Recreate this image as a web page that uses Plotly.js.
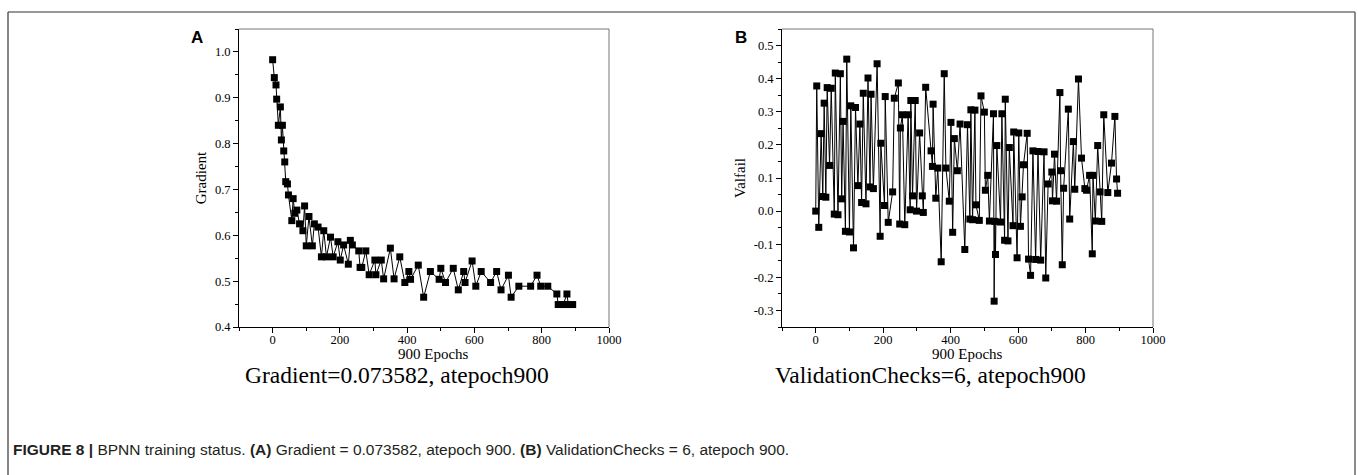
<!DOCTYPE html>
<html><head><meta charset="utf-8">
<script src="https://cdn.plot.ly/plotly-3.0.1.min.js"></script>
<style>html,body{margin:0;padding:0;background:#fff}#chart{width:1358px;height:475px}</style>
</head><body><div id="chart"></div><script>
// Panel A: gradient vs epoch
const epochsA = [0,5,10,12,17,23,26,29,33,36,39,44,47,57,61,66,72,80,90,95,100,108,118,124,135,145,152,160,172,180,194,201,211,225,231,237,256,260,265,277,287,304,307,323,330,350,361,378,393,405,410,433,449,469,495,500,514,537,552,568,572,593,604,620,648,666,679,701,709,732,767,786,797,818,845,849,864,875,879,892];
const gradient = [0.983,0.944,0.928,0.897,0.840,0.880,0.808,0.840,0.784,0.760,0.717,0.712,0.688,0.632,0.680,0.648,0.655,0.625,0.610,0.664,0.577,0.641,0.577,0.625,0.618,0.553,0.610,0.553,0.596,0.553,0.586,0.546,0.579,0.537,0.589,0.579,0.566,0.530,0.530,0.566,0.514,0.546,0.514,0.546,0.505,0.572,0.505,0.553,0.497,0.521,0.504,0.535,0.465,0.521,0.504,0.528,0.497,0.528,0.481,0.521,0.497,0.544,0.489,0.521,0.497,0.521,0.481,0.513,0.465,0.489,0.489,0.513,0.489,0.489,0.472,0.449,0.449,0.472,0.449,0.449];
// Panel B: validation fail vs epoch
const epochsB = [0,3,9,16,21,25,30,34,41,46,55,58,66,73,77,81,88,92,100,104,112,118,125,131,136,141,149,155,161,164,171,182,191,193,204,206,215,228,233,245,249,251,257,264,274,280,282,287,295,299,308,316,319,326,342,346,348,356,362,372,381,386,396,401,406,411,420,428,442,450,457,460,465,472,475,485,490,500,503,510,515,527,529,531,533,537,548,552,560,562,570,574,585,587,597,602,607,612,616,627,631,637,644,652,659,667,677,682,689,700,702,708,714,724,726,731,735,749,753,764,768,779,788,798,803,812,820,822,829,836,843,848,854,866,877,887,892,895];
const valfail = [0.0,0.378,-0.049,0.234,0.044,0.326,0.042,0.373,0.138,0.371,-0.009,0.417,-0.011,0.415,0.037,0.271,-0.061,0.459,-0.063,0.318,-0.111,0.313,0.077,0.263,0.026,0.356,0.022,0.402,0.073,0.353,0.068,0.445,-0.076,0.205,0.017,0.346,-0.034,0.058,0.341,0.387,-0.039,0.251,0.291,-0.041,0.291,0.004,0.334,0.046,0.334,0.0,0.236,0.046,-0.004,0.374,0.182,0.135,0.323,0.039,0.130,-0.153,0.415,0.130,0.030,0.268,-0.064,0.219,0.122,0.263,-0.116,0.261,-0.024,0.306,-0.026,0.305,0.019,-0.028,0.348,0.299,0.063,0.108,-0.030,0.294,-0.272,-0.031,-0.131,0.198,-0.033,0.294,-0.088,0.338,-0.090,0.192,-0.044,0.239,-0.141,0.236,-0.046,0.043,0.140,0.235,-0.145,-0.194,0.182,-0.146,0.180,-0.148,0.179,-0.202,0.082,0.118,0.031,0.172,0.030,0.358,0.122,-0.162,0.069,0.308,-0.024,0.210,0.066,0.399,0.160,0.068,0.063,0.108,-0.129,0.108,-0.030,0.198,0.058,-0.031,0.291,0.056,0.145,0.286,0.097,0.054];

const xTickVals = [0,200,400,600,800,1000];
const xTickText = ['0','200','400','600','800','1000'];
const yTickValsA = [0.4,0.5,0.6,0.7,0.8,0.9,1.0];
const yTickTextA = ['0.4','0.5','0.6','0.7','0.8','0.9','1.0'];
const yTickValsB = [-0.3,-0.2,-0.1,0.0,0.1,0.2,0.3,0.4,0.5];
const yTickTextB = ['-0.3','-0.2','-0.1','0.0','0.1','0.2','0.3','0.4','0.5'];

const W = 1358, H = 475;
const px = x => x / W;
const py = y => 1 - y / H;

const serif = '"Liberation Serif", "Times New Roman", serif';
const sans = '"Liberation Sans", Arial, sans-serif';

const markerStyle = {symbol: 'square', size: 7, color: '#000'};
const lineStyle = {color: '#000', width: 1};

const traces = [
  {x: epochsA, y: gradient, xaxis: 'x', yaxis: 'y', mode: 'lines+markers', marker: markerStyle, line: lineStyle, showlegend: false},
  {x: epochsB, y: valfail, xaxis: 'x2', yaxis: 'y2', mode: 'lines+markers', marker: markerStyle, line: lineStyle, showlegend: false}
];

function xAxis(domain, anchor) {
  return {
    domain: domain, anchor: anchor, range: [-100, 1000],
    tickmode: 'array', tickvals: xTickVals, ticktext: xTickText,
    ticks: 'outside', ticklen: 5, tickwidth: 1, tickcolor: '#000',
    ticklabelstandoff: -4,
    minor: {ticks: 'outside', ticklen: 3, tickvals: [-100,100,300,500,700,900], tickcolor: '#000'},
    showline: true, linecolor: '#000', linewidth: 1, mirror: false,
    showgrid: false, zeroline: false,
    tickfont: {family: serif, size: 12.5, color: '#000'}
  };
}
function yAxis(domain, anchor, range, vals, text, minorVals, title) {
  return {
    domain: domain, anchor: anchor, range: range,
    tickmode: 'array', tickvals: vals, ticktext: text,
    ticks: 'outside', ticklen: 5, tickwidth: 1, tickcolor: '#000',
    minor: {ticks: 'outside', ticklen: 3, tickvals: minorVals, tickcolor: '#000'},
    showline: true, linecolor: '#000', linewidth: 1, mirror: false,
    showgrid: false, zeroline: false,
    tickfont: {family: serif, size: 12.5, color: '#000'},
    title: {text: title, font: {family: serif, size: 15, color: '#000'}, standoff: 4}
  };
}

const yDom = [py(327), py(29)];
const layout = {
  width: W, height: H,
  margin: {l: 0, r: 0, t: 0, b: 0},
  paper_bgcolor: '#fff', plot_bgcolor: '#fff',
  xaxis: xAxis([px(239), px(609)], 'y'),
  yaxis: yAxis(yDom, 'x', [0.4, 1.05], yTickValsA, yTickTextA, [0.45,0.55,0.65,0.75,0.85,0.95,1.05], 'Gradient'),
  xaxis2: xAxis([px(782), px(1153)], 'y2'),
  yaxis2: yAxis(yDom, 'x2', [-0.35, 0.55], yTickValsB, yTickTextB, [-0.35,-0.25,-0.15,-0.05,0.05,0.15,0.25,0.35,0.45,0.55], 'Valfail'),
  shapes: [
    {type: 'line', xref: 'x domain', yref: 'y domain', x0: 0, x1: 1, y0: 1, y1: 1, line: {color: '#777', width: 1}},
    {type: 'line', xref: 'x domain', yref: 'y domain', x0: 1, x1: 1, y0: 0, y1: 1, line: {color: '#777', width: 1}},
    {type: 'line', xref: 'x2 domain', yref: 'y2 domain', x0: 0, x1: 1, y0: 1, y1: 1, line: {color: '#777', width: 1}},
    {type: 'line', xref: 'x2 domain', yref: 'y2 domain', x0: 1, x1: 1, y0: 0, y1: 1, line: {color: '#777', width: 1}},
    {type: 'line', xref: 'paper', yref: 'paper', x0: px(8), x1: px(1355), y0: py(12), y1: py(12), line: {color: '#333', width: 1.2}},
    {type: 'line', xref: 'paper', yref: 'paper', x0: px(8), x1: px(8), y0: py(12), y1: 0, line: {color: '#333', width: 1.2}},
    {type: 'line', xref: 'paper', yref: 'paper', x0: px(1355), x1: px(1355), y0: py(12), y1: 0, line: {color: '#666', width: 1.5}}
  ],
  annotations: [
    {text: '<b>A</b>', xref: 'paper', yref: 'paper', x: px(197), y: py(38), xanchor: 'center', yanchor: 'middle', showarrow: false, font: {family: sans, size: 17, color: '#000'}},
    {text: '<b>B</b>', xref: 'paper', yref: 'paper', x: px(741), y: py(38), xanchor: 'center', yanchor: 'middle', showarrow: false, font: {family: sans, size: 17, color: '#000'}},
    {text: '900 Epochs', xref: 'paper', yref: 'paper', x: px(434), y: py(354), xanchor: 'center', yanchor: 'middle', showarrow: false, font: {family: serif, size: 15, color: '#000'}},
    {text: '900 Epochs', xref: 'paper', yref: 'paper', x: px(967), y: py(354), xanchor: 'center', yanchor: 'middle', showarrow: false, font: {family: serif, size: 15, color: '#000'}},
    {text: 'Gradient=0.073582, atepoch900', xref: 'paper', yref: 'paper', x: px(397), y: py(375), xanchor: 'center', yanchor: 'middle', showarrow: false, font: {family: serif, size: 23.5, color: '#000'}},
    {text: 'ValidationChecks=6, atepoch900', xref: 'paper', yref: 'paper', x: px(930), y: py(375), xanchor: 'center', yanchor: 'middle', showarrow: false, font: {family: serif, size: 23.5, color: '#000'}},
    {text: '<b>FIGURE 8 |</b> BPNN training status. <b>(A)</b> Gradient = 0.073582, atepoch 900. <b>(B)</b> ValidationChecks = 6, atepoch 900.', xref: 'paper', yref: 'paper', x: px(11), y: py(449), xanchor: 'left', yanchor: 'middle', showarrow: false, font: {family: sans, size: 15.5, color: '#231f20'}}
  ]
};

Plotly.newPlot('chart', traces, layout, {displayModeBar: false, staticPlot: true});
</script></body></html>
